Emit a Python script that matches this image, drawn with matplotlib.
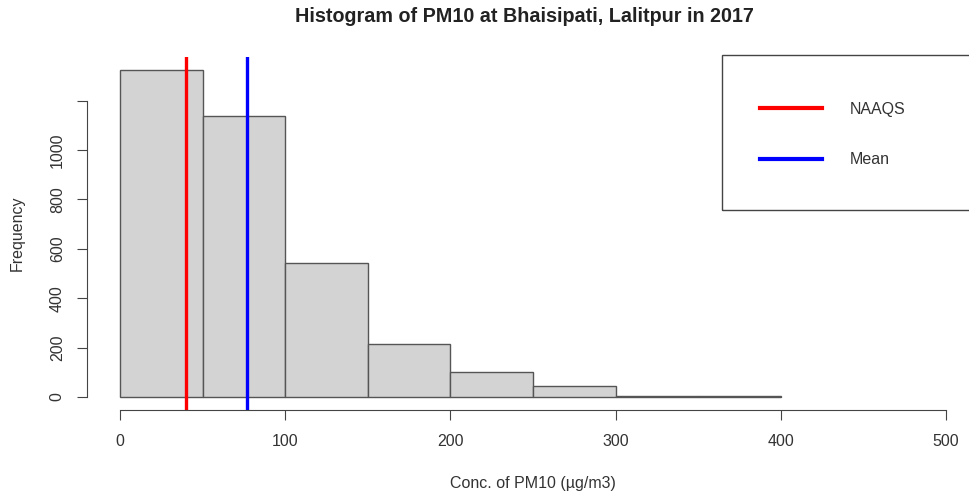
import matplotlib
matplotlib.use("Agg")
import matplotlib.pyplot as plt
from matplotlib.patches import Rectangle
import numpy as np

# histogram of PM10 concentrations (bin edges and counts)
bin_edges = [0, 50, 100, 150, 200, 250, 300, 350, 400]
counts = [1324, 1138, 541, 214, 101, 43, 5, 2]
naaqs = 40
mean_pm10 = 77

x_ticks = [0, 100, 200, 300, 400, 500]
y_ticks = [0, 200, 400, 600, 800, 1000]

W, H = 970, 497
plt.rcParams['font.family'] = ['Liberation Sans', 'DejaVu Sans']
txt = '#333333'
fs = 11.5

fig = plt.figure(figsize=(W / 100, H / 100), dpi=100)
# axes in pixel coords (R plot region, x extends slightly past right edge)
left, right, top, bottom = 87, 979, 57, 410
ax = fig.add_axes([left / W, 1 - bottom / H, (right - left) / W, (bottom - top) / H])

edges = np.array(bin_edges)
ax.bar(edges[:-1], counts, width=np.diff(edges), align='edge',
       color='#d3d3d3', edgecolor='#555555', linewidth=1.0)
ax.axvline(naaqs, color='#ff0000', lw=2.4, label='NAAQS')
ax.axvline(mean_pm10, color='#0000ff', lw=2.4, label='Mean')

ax.set_xlim(-20, 520)
ax.set_ylim(-0.04 * max(counts), max(counts) * 1.04)

for s in ['top', 'right']:
    ax.spines[s].set_visible(False)
ax.spines['left'].set_bounds(0, 1200)
ax.spines['bottom'].set_bounds(0, 500)
for s in ['left', 'bottom']:
    ax.spines[s].set_color('#444444')

ax.set_xticks(x_ticks)
ax.set_yticks(y_ticks + [1200])
ax.set_yticklabels([str(v) for v in y_ticks] + [''])
ax.tick_params(axis='both', length=7, color='#444444', labelcolor=txt, labelsize=fs)
ax.tick_params(axis='x', pad=10)
ax.tick_params(axis='y', pad=9)
for lab in ax.get_yticklabels():
    lab.set_rotation(90)
    lab.set_va('center')

ax.set_xlabel('Conc. of PM10 (µg/m3)', fontsize=fs, color=txt, labelpad=20)
ax.set_ylabel('Frequency', fontsize=fs, color=txt, labelpad=18)
fig.text(524 / W, 1 - 17 / H,
         'Histogram of PM10 at Bhaisipati, Lalitpur in 2017',
         ha='center', va='center', fontsize=14.2, fontweight='bold', color='#222222')

# legend with a box like R's legend()
leg = ax.legend(loc='upper left', bbox_to_anchor=(752 / W, 1 - 94 / H),
                bbox_transform=fig.transFigure, frameon=False, fontsize=fs,
                handlelength=3.9, handletextpad=1.7, labelspacing=2.2, borderpad=0)
for t in leg.get_texts():
    t.set_color(txt)
for ln in leg.get_lines():
    ln.set_linewidth(3)
fig.patches.append(Rectangle((722 / W, 1 - 210 / H), 260 / W, 155 / H,
                             transform=fig.transFigure, fill=False,
                             edgecolor='#444444', lw=1.0))

fig.savefig('out.png', dpi=100)
